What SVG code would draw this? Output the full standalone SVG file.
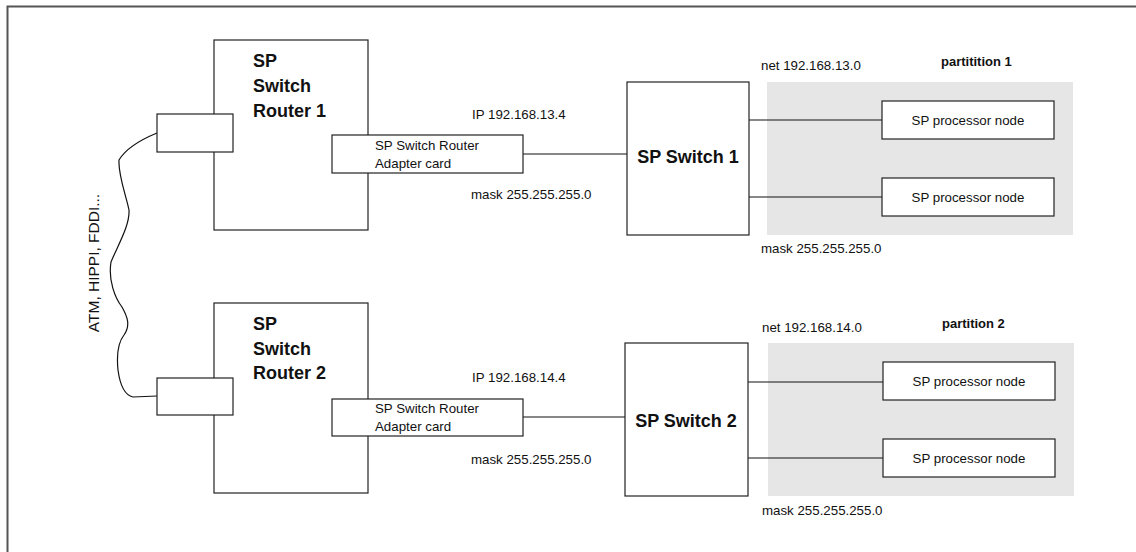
<svg xmlns="http://www.w3.org/2000/svg" width="1136" height="552" viewBox="0 0 1136 552">
<style>
.box{fill:#fff;stroke:#222;stroke-width:1.2}
.part{fill:#e6e6e6;stroke:none}
.ln{stroke:#111;stroke-width:1.2;fill:none}
.t{font-family:"Liberation Sans",Arial,sans-serif;font-size:13.3px;fill:#111}
.b{font-family:"Liberation Sans",Arial,sans-serif;font-weight:bold;fill:#111}
.big{font-size:18px}
.sm{font-size:13px}
</style>
<rect x="0" y="0" width="1136" height="552" fill="#fff"/>
<path d="M7.5,560 V6.5 H1145" fill="none" stroke="#555" stroke-width="2"/>

<g id="partition1">
<rect class="part" x="767" y="82" width="306" height="153"/>
<text class="b sm" x="941" y="66">partitition 1</text>
<text class="t" x="761" y="70">net 192.168.13.0</text>
<text class="t" x="761" y="253">mask 255.255.255.0</text>
</g>
<g id="partition2">
<rect class="part" x="768" y="343" width="306" height="153"/>
<text class="b sm" x="942" y="328">partition 2</text>
<text class="t" x="762" y="332">net 192.168.14.0</text>
<text class="t" x="762" y="515">mask 255.255.255.0</text>
</g>

<g id="connectors">
<path class="ln" d="M157,133 C140,140 125,150 119,160 C118,175 126,195 129,210 C130,225 118,245 111,262 C108,280 115,298 122,307 C127,316 131,325 124,335 C116,345 117,360 118,370 C120,385 124,395 133,397 L157,396"/>
<line class="ln" x1="523" y1="154" x2="627" y2="154"/>
<line class="ln" x1="749" y1="120" x2="882" y2="120"/>
<line class="ln" x1="749" y1="197" x2="882" y2="197"/>
<line class="ln" x1="523" y1="417" x2="625" y2="417"/>
<line class="ln" x1="748" y1="382" x2="883" y2="382"/>
<line class="ln" x1="748" y1="458" x2="883" y2="458"/>
<text class="t" x="99" y="263" font-size="15.5px" text-anchor="middle" transform="rotate(-90 99 263)" style="font-size:15.5px">ATM, HIPPI, FDDI...</text>
</g>

<g id="router1">
<rect class="box" x="214" y="40" width="154" height="190"/>
<text class="b big" x="253" y="67">SP</text>
<text class="b big" x="253" y="92">Switch</text>
<text class="b big" x="253" y="117">Router 1</text>
</g>
<g id="port1">
<rect class="box" x="157" y="114" width="76" height="38"/>
</g>
<g id="adapter1">
<rect class="box" x="332" y="135" width="191" height="38"/>
<text class="t" x="375" y="150">SP Switch Router</text>
<text class="t" x="375" y="168">Adapter card</text>
</g>
<g id="ip1">
<text class="t" x="472" y="119">IP 192.168.13.4</text>
<text class="t" x="471" y="199">mask 255.255.255.0</text>
</g>
<g id="switch1">
<rect class="box" x="627" y="82" width="122" height="153"/>
<text class="b big" x="688" y="163" text-anchor="middle">SP Switch 1</text>
</g>
<g id="node1a">
<rect class="box" x="882" y="101" width="172" height="38"/>
<text class="t" x="968" y="125" text-anchor="middle">SP processor node</text>
</g>
<g id="node1b">
<rect class="box" x="882" y="178" width="172" height="38"/>
<text class="t" x="968" y="202" text-anchor="middle">SP processor node</text>
</g>

<g id="router2">
<rect class="box" x="214" y="303" width="154" height="190"/>
<text class="b big" x="253" y="330">SP</text>
<text class="b big" x="253" y="355">Switch</text>
<text class="b big" x="253" y="379">Router 2</text>
</g>
<g id="port2">
<rect class="box" x="157" y="378" width="76" height="37"/>
</g>
<g id="adapter2">
<rect class="box" x="332" y="399" width="191" height="37"/>
<text class="t" x="375" y="413">SP Switch Router</text>
<text class="t" x="375" y="431">Adapter card</text>
</g>
<g id="ip2">
<text class="t" x="472" y="382">IP 192.168.14.4</text>
<text class="t" x="471" y="464">mask 255.255.255.0</text>
</g>
<g id="switch2">
<rect class="box" x="625" y="343" width="123" height="153"/>
<text class="b big" x="686" y="427" text-anchor="middle">SP Switch 2</text>
</g>
<g id="node2a">
<rect class="box" x="883" y="362" width="172" height="38"/>
<text class="t" x="969" y="386" text-anchor="middle">SP processor node</text>
</g>
<g id="node2b">
<rect class="box" x="883" y="439" width="172" height="38"/>
<text class="t" x="969" y="463" text-anchor="middle">SP processor node</text>
</g>
</svg>
